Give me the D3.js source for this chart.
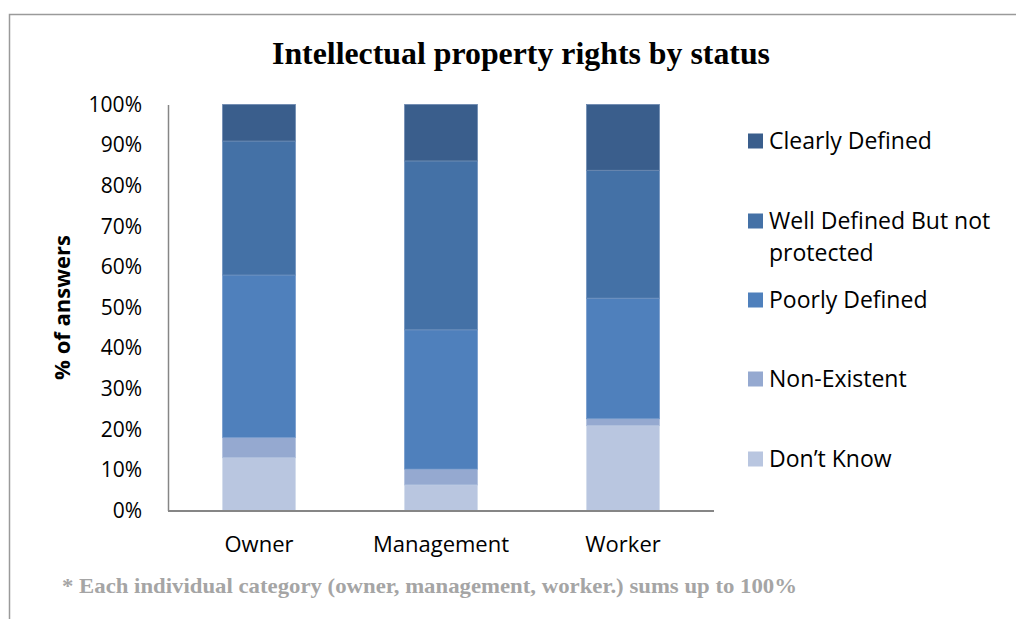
<!DOCTYPE html>
<html>
<head>
<meta charset="utf-8">
<script src="https://cdn.jsdelivr.net/npm/d3@7"></script>
<style>
html,body{margin:0;padding:0;background:#fff;}
svg{display:block;}
</style>
</head>
<body>
<svg id="chart" width="1016" height="619"></svg>
<script>
const categories = ["Owner", "Management", "Worker"];
const seriesNames = ["Don\u2019t Know", "Non-Existent", "Poorly Defined", "Well Defined But not protected", "Clearly Defined"];
const dontKnow      = [13.0, 6.3, 20.9];
const nonExistent   = [5.0, 3.9, 1.7];
const poorlyDefined = [40.0, 34.3, 29.7];
const wellDefined   = [33.0, 41.6, 31.5];
const clearlyDefined= [9.0, 13.9, 16.2];
const yTicks = [0,10,20,30,40,50,60,70,80,90,100];
const colors = ["#b9c6e0", "#95a9d0", "#4f80bc", "#4471a6", "#3a5e8c"];
const strokeColors = ["#d0daea", "#b0c0dd", "#7399cb", "#6d8fbc", "#6a87ae"];

const seriesValues = [dontKnow, nonExistent, poorlyDefined, wellDefined, clearlyDefined];
const rows = categories.map((c,i)=>{
  const r = {category:c};
  seriesNames.forEach((s,j)=>{ r[s] = seriesValues[j][i]; });
  return r;
});

const svg = d3.select("#chart");
const bodyFont = "'Open Sans', 'Noto Sans', sans-serif";
const serif = "'Liberation Serif', 'Times New Roman', serif";

// frame
svg.append("path").attr("d","M9.5,619 L9.5,14.5 L1016,14.5")
  .attr("fill","none").attr("stroke","#9a9a9a").attr("stroke-width",1.5);

const plot = {left:168, right:714, top:104.5, bottom:510.5};
const x = d3.scaleBand().domain(categories).range([plot.left, plot.right]).paddingInner(0.6).paddingOuter(0.3);
const y = d3.scaleLinear().domain([0,100]).range([plot.bottom, plot.top]);

const stacked = d3.stack().keys(seriesNames)(rows);

svg.append("g").selectAll("g.series").data(stacked).join("g").attr("class","series")
  .attr("fill",(d,i)=>colors[i])
  .attr("stroke",(d,i)=>strokeColors[i])
  .attr("stroke-width",0.8)
  .selectAll("rect").data(d=>d).join("rect")
  .attr("x",d=>x(d.data.category))
  .attr("width",x.bandwidth())
  .attr("y",d=>y(d[1]))
  .attr("height",d=>y(d[0])-y(d[1]));

// y axis
const yAxis = d3.axisLeft(y).tickValues(yTicks).tickFormat(d=>d+"%").tickSize(0).tickPadding(26);
const ya = svg.append("g").attr("transform",`translate(${plot.left},0)`).call(yAxis);
ya.select(".domain").attr("stroke","#868686").attr("stroke-width",1.5);
ya.selectAll("text").attr("font-family",bodyFont).attr("font-size",21).attr("fill","#000");

// x axis
const xAxis = d3.axisBottom(x).tickSize(0).tickPadding(26);
const xa = svg.append("g").attr("transform",`translate(0,${plot.bottom})`).call(xAxis);
xa.select(".domain").attr("d",`M${plot.left},0.5H${plot.right}`).attr("stroke","#868686").attr("stroke-width",2);
xa.selectAll("text").attr("font-family",bodyFont).attr("font-size",22).attr("fill","#000");

// y title
svg.append("text").attr("transform",`translate(70,${(plot.top+plot.bottom)/2}) rotate(-90)`)
  .attr("text-anchor","middle").attr("font-family",bodyFont).attr("font-weight","bold")
  .attr("font-size",22).text("% of answers");

// title
svg.append("text").attr("x",272).attr("y",64)
  .attr("font-family",serif).attr("font-weight","bold").attr("font-size",32)
  .attr("textLength",498).attr("lengthAdjust","spacingAndGlyphs")
  .text("Intellectual property rights by status");

// legend
const legendItems = [
  {i:4, lines:["Clearly Defined"], y:141},
  {i:3, lines:["Well Defined But not","protected"], y:221},
  {i:2, lines:["Poorly Defined"], y:300},
  {i:1, lines:["Non-Existent"], y:379},
  {i:0, lines:["Don\u2019t Know"], y:459}
];
const lg = svg.append("g");
legendItems.forEach(it=>{
  lg.append("rect").attr("x",748).attr("y",it.y-7.5).attr("width",15).attr("height",15).attr("fill",colors[it.i]);
  const t = lg.append("text").attr("x",769).attr("y",it.y+8).attr("font-family",bodyFont).attr("font-size",23).attr("fill","#000");
  it.lines.forEach((l,k)=>{
    t.append("tspan").attr("x",769).attr("dy",k===0?0:32).text(l);
  });
});

// footnote
svg.append("text").attr("x",62).attr("y",593).attr("font-family",serif).attr("font-weight","bold")
  .attr("font-size",21).attr("fill","#a5a5a5")
  .attr("textLength",735).attr("lengthAdjust","spacingAndGlyphs")
  .text("* Each individual category (owner, management, worker.) sums up to 100%");
</script>
</body>
</html>
